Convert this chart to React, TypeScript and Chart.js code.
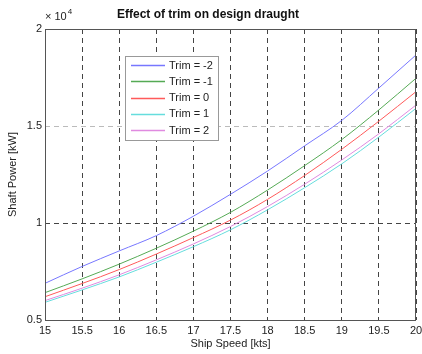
import React, { useEffect, useRef } from "react";
import { Chart, registerables } from "chart.js";

Chart.register(...registerables);

const speeds = [15, 15.5, 16, 16.5, 17, 17.5, 18, 18.5, 19, 19.5, 20];
const trimLabels = ["Trim = -2", "Trim = -1", "Trim = 0", "Trim = 1", "Trim = 2"];
const trimM2 = [6890, 7760, 8560, 9350, 10350, 11480, 12680, 13980, 15290, 16960, 18660];
const trimM1 = [6410, 7120, 7880, 8700, 9580, 10550, 11700, 12960, 14300, 15830, 17460];
const trim0 = [6200, 6880, 7600, 8400, 9250, 10150, 11220, 12450, 13800, 15250, 16770];
const trim1 = [5910, 6550, 7220, 7980, 8780, 9650, 10680, 11820, 13050, 14430, 15910];
const trim2 = [6000, 6640, 7330, 8100, 8920, 9820, 10850, 12000, 13250, 14600, 16080];
const colors = ["#7777ff", "#55aa55", "#ff5a5a", "#66dddd", "#e08ae0"];
const yTicks = [5000, 10000, 15000, 20000];

const FONT = "'Liberation Sans', Arial, sans-serif";

const framePlugin = {
  id: "frame",
  afterDraw(chart: any) {
    const { ctx, chartArea: a } = chart;
    ctx.save();
    ctx.strokeStyle = "#555";
    ctx.lineWidth = 1;
    ctx.setLineDash([]);
    ctx.strokeRect(Math.round(a.left) + 0.5, Math.round(a.top) + 0.5, Math.round(a.right - a.left) - 1, Math.round(a.bottom - a.top));
    // exponent label
    ctx.fillStyle = "#222";
    ctx.font = `11px ${FONT}`;
    ctx.textBaseline = "middle";
    ctx.textAlign = "left";
    ctx.fillText("\u00d7 10", a.left, 17);
    const w = ctx.measureText("\u00d7 10").width;
    ctx.font = `8px ${FONT}`;
    ctx.fillText("4", a.left + w + 1, 12);
    // legend
    const lx = 125, ly = 56, lw = 93, lh = 84;
    ctx.fillStyle = "#fff";
    ctx.fillRect(lx, ly, lw, lh);
    ctx.strokeStyle = "#999";
    ctx.strokeRect(lx + 0.5, ly + 0.5, lw, lh);
    ctx.font = `11px ${FONT}`;
    const ds = chart.data.datasets;
    for (let i = 0; i < ds.length; i++) {
      const y = 65 + i * 16.3;
      ctx.strokeStyle = ds[i].borderColor;
      ctx.lineWidth = 1.5;
      ctx.beginPath();
      ctx.moveTo(131, Math.round(y) + 0.5);
      ctx.lineTo(165, Math.round(y) + 0.5);
      ctx.stroke();
      ctx.fillStyle = "#222";
      ctx.fillText(ds[i].label, 169, y + 0.5);
    }
    ctx.restore();
  },
};

export default function App() {
  const ref = useRef<HTMLCanvasElement>(null);
  useEffect(() => {
    if (!ref.current) return;
    const series = [trimM2, trimM1, trim0, trim1, trim2];
    const chart = new Chart(ref.current, {
      type: "line",
      data: {
        datasets: series.map((s, i) => ({
          label: trimLabels[i],
          data: s.map((v, j) => ({ x: speeds[j], y: v })),
          borderColor: colors[i],
          backgroundColor: colors[i],
          borderWidth: 1,
          pointRadius: 0,
          cubicInterpolationMode: "monotone",
          fill: false,
        })),
      },
      options: {
        responsive: false,
        animation: false,
        devicePixelRatio: 1,
        layout: { padding: { left: 0, right: 6, top: 0, bottom: 0 } },
        plugins: {
          legend: { display: false },
          tooltip: { enabled: false },
          title: {
            display: true,
            text: "Effect of trim on design draught",
            color: "#111",
            font: { family: FONT, size: 12, weight: "bold" },
            padding: { top: 7, bottom: 7.6 },
          },
        },
        scales: {
          x: {
            type: "linear",
            min: 15,
            max: 20,
            afterFit: (s: any) => { s.height = 34; s.paddingRight = 0; s.paddingLeft = 0; },
            ticks: {
              stepSize: 0.5,
              padding: 4,
              color: "#222",
              font: { family: FONT, size: 11 },
              maxRotation: 0,
              autoSkip: false,
              callback: (v: any) => String(v),
            },
            grid: { color: "#444", drawTicks: false, lineWidth: 1 },
            border: { display: false, dash: [5, 4] },
            title: {
              display: true,
              text: "Ship Speed [kts]",
              color: "#222",
              font: { family: FONT, size: 11 },
              padding: { top: 2, bottom: 3 },
            },
          },
          y: {
            type: "linear",
            min: 5000,
            max: 20000,
            afterFit: (s: any) => { s.width = 45; s.paddingTop = 0; s.paddingBottom = 0; },
            afterBuildTicks: (s: any) => { s.ticks = yTicks.map((v) => ({ value: v })); },
            ticks: {
              padding: 3,
              color: "#222",
              font: { family: FONT, size: 11 },
              callback: (v: any) => String(Number(v) / 10000),
            },
            grid: {
              color: (c: any) => (c.tick && c.tick.value === 15000 ? "#bbb" : "#444"),
              drawTicks: false,
              lineWidth: 1,
            },
            border: { display: false, dash: [5, 4] },
            title: {
              display: true,
              text: "Shaft Power [kW]",
              color: "#222",
              font: { family: FONT, size: 11 },
              padding: { top: 6, bottom: 2 },
            },
          },
        },
      },
      plugins: [framePlugin],
    } as any);
    return () => chart.destroy();
  }, []);
  return (
    <div style={{ position: "absolute", left: 0, top: 0, width: 422, height: 354, background: "#fff" }}>
      <canvas ref={ref} width={422} height={354} style={{ display: "block" }} />
    </div>
  );
}
